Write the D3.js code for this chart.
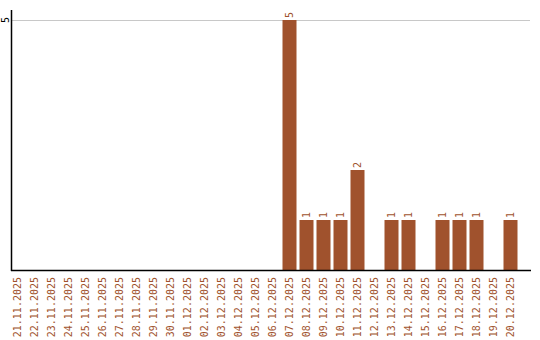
<!DOCTYPE html>
<html><head><meta charset="utf-8">
<script src="https://cdn.jsdelivr.net/npm/d3@7"></script>
<style>body{margin:0;background:#fff}svg{display:block}</style>
</head><body><svg id="c" width="540" height="340"></svg>
<script>
const categories = ["21.11.2025","22.11.2025","23.11.2025","24.11.2025","25.11.2025","26.11.2025","27.11.2025","28.11.2025","29.11.2025","30.11.2025","01.12.2025","02.12.2025","03.12.2025","04.12.2025","05.12.2025","06.12.2025","07.12.2025","08.12.2025","09.12.2025","10.12.2025","11.12.2025","12.12.2025","13.12.2025","14.12.2025","15.12.2025","16.12.2025","17.12.2025","18.12.2025","19.12.2025","20.12.2025"];
const values = [0,0,0,0,0,0,0,0,0,0,0,0,0,0,0,0,5,1,1,1,2,0,1,1,0,1,1,1,0,1];
const yTicks = [5];

const svg = d3.select("#c");
const color = "#a0522d";
const font = "'DejaVu Sans Mono', monospace";
const x = d3.scaleBand().domain(categories).range([9, 519]).paddingInner(3/17).paddingOuter(1.5/17);
const y = d3.scaleLinear().domain([0, 5]).range([270, 20]);

// grid
svg.selectAll("line.grid").data(yTicks).join("line")
  .attr("x1", 11).attr("x2", 530)
  .attr("y1", d => y(d) + 0.5).attr("y2", d => y(d) + 0.5)
  .attr("stroke", "#c8c8c8").attr("stroke-width", 1);

// bars
svg.selectAll("rect.bar").data(categories).join("rect")
  .attr("x", d => x(d)).attr("width", x.bandwidth())
  .attr("y", (d, i) => y(values[i])).attr("height", (d, i) => y(0) - y(values[i]))
  .attr("fill", color);

// value labels
svg.selectAll("text.val").data(categories.filter((d, i) => values[i] > 0)).join("text")
  .attr("transform", d => `translate(${x(d) + x.bandwidth() / 2},${y(values[categories.indexOf(d)]) - 2}) rotate(-90)`)
  .attr("dy", "0.35em")
  .attr("text-anchor", "start")
  .attr("font-family", font).attr("font-size", 10).attr("fill", color)
  .text(d => values[categories.indexOf(d)]);

// axes lines
svg.append("line").attr("x1", 11.5).attr("x2", 11.5).attr("y1", 10).attr("y2", 271).attr("stroke", "#000").attr("stroke-width", 1.5);
svg.append("line").attr("x1", 11).attr("x2", 531).attr("y1", 270.5).attr("y2", 270.5).attr("stroke", "#000").attr("stroke-width", 1.5);

// y tick labels
svg.selectAll("text.yt").data(yTicks).join("text")
  .attr("transform", d => `translate(5,${y(d)}) rotate(-90)`)
  .attr("dy", "0.35em").attr("text-anchor", "middle")
  .attr("font-family", font).attr("font-size", 10).attr("fill", "#000")
  .text(d => d);

// x labels
svg.selectAll("text.xl").data(categories).join("text")
  .attr("transform", d => `translate(${x(d) + x.bandwidth() / 2},277) rotate(-90)`)
  .attr("dy", "0.35em").attr("text-anchor", "end")
  .attr("font-family", font).attr("font-size", 10).attr("fill", color)
  .text(d => d);
</script></body></html>
